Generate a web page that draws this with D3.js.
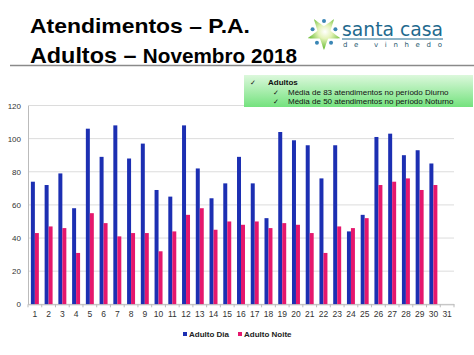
<!DOCTYPE html>
<html><head><meta charset="utf-8">
<script src="https://cdn.jsdelivr.net/npm/d3@7"></script>
<style>
html,body{margin:0;padding:0;background:#fff;}
svg{display:block;font-family:"Liberation Sans",Arial,sans-serif;}
</style></head>
<body>
<svg id="c" width="474" height="355"></svg>
<script>
const days = d3.range(1, 32).map(String);
const adultoDia   = [74,72,79,58,106,89,108,88,97,69,65,108,82,64,73,89,73,52,104,99,96,76,96,44,54,101,103,90,93,85,null];
const adultoNoite = [43,47,46,31,55,49,41,43,43,32,44,54,58,45,50,48,50,46,49,48,43,31,47,46,52,72,74,76,69,72,null];
const yTicks = [0,20,40,60,80,100,120];
const seriesNames = ["Adulto Dia","Adulto Noite"];
const colors = ["#1c2fb2","#e5176d"];
const noteLines = ["Adultos","Média de 83 atendimentos no período Diurno","Média de 50 atendimentos no período Noturno"];

const svg = d3.select("#c");
const defs = svg.append("defs");

// Header
svg.append("text").attr("x",30).attr("y",33).attr("font-size",21).attr("font-weight","bold").attr("fill","#000")
  .attr("textLength",220).attr("lengthAdjust","spacingAndGlyphs")
  .text("Atendimentos – P.A.");
const t2 = svg.append("text").attr("x",30).attr("y",63).attr("font-weight","bold").attr("fill","#000")
  .attr("textLength",267).attr("lengthAdjust","spacingAndGlyphs");
t2.append("tspan").attr("font-size",22).text("Adultos – ");
t2.append("tspan").attr("font-size",19.5).text("Novembro 2018");
svg.append("line").attr("x1",10).attr("x2",474).attr("y1",65.5).attr("y2",65.5).attr("stroke","#8a8a8a").attr("stroke-width",1.3);

// Logo
const logo = svg.append("g").attr("transform","translate(324,33)");
const rg = defs.append("radialGradient").attr("id","lg");
rg.append("stop").attr("offset","0").attr("stop-color","#ffffff");
rg.append("stop").attr("offset","0.45").attr("stop-color","#e4f3b8");
rg.append("stop").attr("offset","1").attr("stop-color","#7cc54a");
const star = [];
for (let i=0;i<10;i++){
  const a = -Math.PI/2 + i*Math.PI/5;
  const r = i%2===0 ? 17 : 7;
  star.push([r*Math.cos(a), r*Math.sin(a)]);
}
logo.append("path").attr("d", d3.line().curve(d3.curveCardinalClosed.tension(0.75))(star))
  .attr("fill","url(#lg)").attr("transform","rotate(36)");
for (let i=0;i<5;i++){
  const a = -Math.PI/2 + i*2*Math.PI/5;
  logo.append("circle").attr("cx",12*Math.cos(a)).attr("cy",12*Math.sin(a)).attr("r",2).attr("fill","#3a86b5");
}
svg.append("text").attr("x",342).attr("y",36).attr("font-size",20).attr("fill","#1f6a8e").attr("font-family","DejaVu Sans")
  .attr("textLength",101).attr("lengthAdjust","spacingAndGlyphs").text("santa casa");
svg.append("line").attr("x1",342).attr("x2",443).attr("y1",39).attr("y2",39).attr("stroke","#1f6a8e").attr("stroke-width",1);
svg.append("text").attr("x",343).attr("y",47).attr("font-size",7).attr("fill","#2a5a70").attr("font-family","DejaVu Sans")
  .attr("textLength",99).attr("lengthAdjust","spacing").text("de vinhedo");

// Chart
const left = 28, right = 454, y0 = 304.3, y120 = 105.5;
const x = d3.scaleBand().domain(days).range([left,right]).paddingInner(0.42).paddingOuter(0.21);
const xs = d3.scaleBand().domain(seriesNames).range([0,x.bandwidth()]);
const y = d3.scaleLinear().domain([0,120]).range([y0,y120]);

svg.append("g").selectAll("line").data(yTicks).join("line")
  .attr("x1",left).attr("x2",right).attr("y1",d=>y(d)).attr("y2",d=>y(d))
  .attr("stroke","#dcdcdc").attr("stroke-width",1);

const yAxis = svg.append("g").attr("transform",`translate(${left},0)`)
  .call(d3.axisLeft(y).tickValues(yTicks).tickSize(0).tickPadding(7));
yAxis.select(".domain").attr("stroke","#bbb");
yAxis.selectAll("text").attr("font-size",8).attr("fill","#333").attr("font-family","Liberation Sans, Arial");

const series = [adultoDia, adultoNoite];
series.forEach((vals,si)=>{
  svg.append("g").selectAll("rect").data(days.map((d,i)=>({d,v:vals[i]})).filter(o=>o.v!=null)).join("rect")
    .attr("x",o=>x(o.d)+xs(seriesNames[si]))
    .attr("width",xs.bandwidth())
    .attr("y",o=>y(o.v))
    .attr("height",o=>y0-y(o.v))
    .attr("fill",colors[si]);
});

const xAxis = svg.append("g").attr("transform",`translate(0,${y0})`)
  .call(d3.axisBottom(x).tickSize(0).tickPadding(7));
xAxis.select(".domain").attr("stroke","#bbb");
xAxis.selectAll("text").attr("font-size",8.5).attr("fill","#333").attr("font-family","Liberation Sans, Arial");
svg.append("g").selectAll("line").data(d3.range(0,32)).join("line")
  .attr("x1",i=>left+i*(right-left)/31).attr("x2",i=>left+i*(right-left)/31)
  .attr("y1",y0).attr("y2",y0+3).attr("stroke","#bbb");

// Note box
const gd = defs.append("linearGradient").attr("id","gb").attr("x1","0").attr("y1","0").attr("x2","0").attr("y2","1");
gd.append("stop").attr("offset","0").attr("stop-color","#dcf8dc");
gd.append("stop").attr("offset","1").attr("stop-color","#74e27e");
svg.append("rect").attr("x",244).attr("y",75).attr("width",229).attr("height",32).attr("fill","url(#gb)");
const note = svg.append("g").attr("font-size",8).attr("fill","#111");
note.append("text").attr("x",250).attr("y",85).attr("font-size",7).text("✓");
note.append("text").attr("x",268).attr("y",85).attr("font-weight","bold").text(noteLines[0]);
note.append("text").attr("x",273).attr("y",95).attr("font-size",7).text("✓");
note.append("text").attr("x",288).attr("y",95).text(noteLines[1]);
note.append("text").attr("x",273).attr("y",104).attr("font-size",7).text("✓");
note.append("text").attr("x",288).attr("y",104).text(noteLines[2]);

// Legend
const lg = svg.append("g").attr("font-size",8).attr("font-weight","bold").attr("fill","#222");
[[183,0],[238,1]].forEach(([lx,i])=>{
  lg.append("rect").attr("x",lx).attr("y",332).attr("width",4).attr("height",4).attr("fill",colors[i]);
  lg.append("text").attr("x",lx+6).attr("y",337).text(seriesNames[i]);
});
</script>
</body></html>
